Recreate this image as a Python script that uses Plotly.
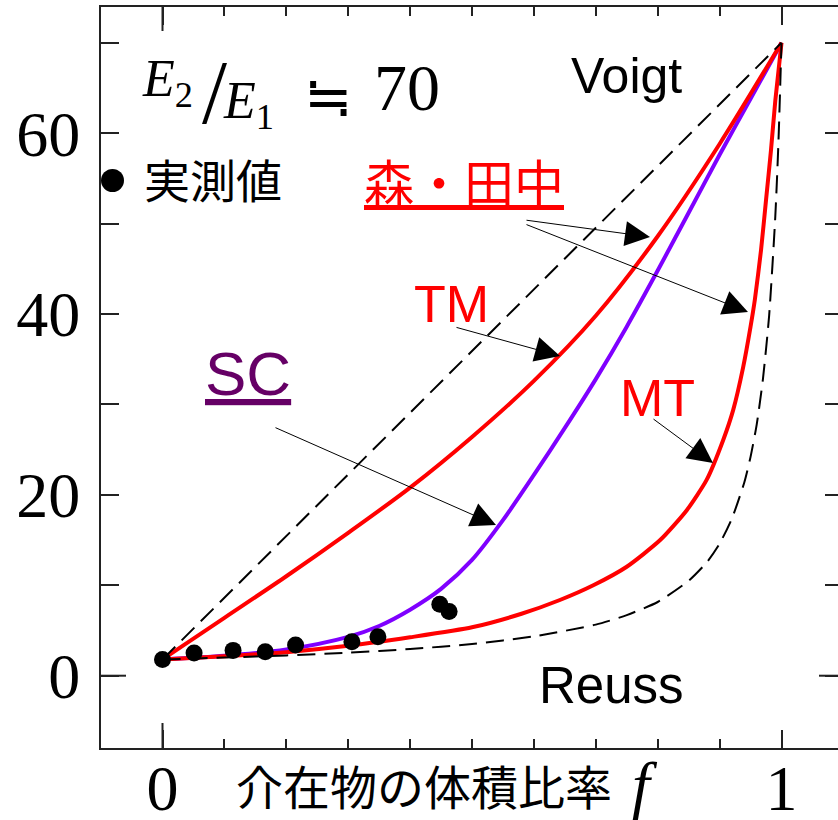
import plotly.graph_objects as go

# ---------------- data ----------------
voigt_f = [0.0, 1.0]
voigt_E = [1.8, 70.0]

reuss_f = [0.0, 0.1, 0.2, 0.3, 0.4, 0.5, 0.6, 0.7, 0.75, 0.8, 0.85, 0.88, 0.9,
           0.92, 0.94, 0.95, 0.96, 0.97, 0.98, 0.99, 0.995, 1.0]
reuss_E = [1.8, 2.0, 2.24, 2.55, 2.95, 3.5, 4.35, 5.65, 6.7, 8.15, 10.5, 12.6, 14.6,
           17.4, 21.4, 24.2, 27.8, 32.8, 39.8, 50.8, 58.9, 70.0]

mt_f = [0.0, 0.1, 0.2, 0.3, 0.4, 0.5, 0.58, 0.642, 0.696, 0.75, 0.804, 0.847,
        0.879, 0.906, 0.922, 0.938, 0.95, 0.957, 0.967, 0.975, 0.983, 0.99, 1.0]
mt_E = [1.8, 2.15, 2.6, 3.3, 4.25, 5.35, 6.85, 8.37, 10.0, 12.05, 15.0, 18.3,
        21.65, 26.1, 29.4, 34.1, 38.6, 41.6, 47.1, 52.6, 58.1, 63.6, 70.0]

tm_f = [0.0, 0.1, 0.2, 0.3, 0.4, 0.5, 0.6, 0.7, 0.8, 0.9, 1.0]
tm_E = [1.8, 6.4, 11.0, 15.8, 20.8, 26.4, 32.6, 39.8, 48.6, 58.8, 70.0]

sc_f = [0.0, 0.1, 0.2, 0.3, 0.35, 0.4, 0.45, 0.5, 0.55, 0.6, 0.65, 0.7, 0.75,
        0.8, 0.85, 0.9, 0.95, 1.0]
sc_E = [1.8, 2.2, 2.9, 4.3, 5.5, 7.3, 9.6, 12.8, 17.2, 22.2, 27.4, 32.8, 38.6,
        44.8, 51.2, 57.6, 63.8, 70.0]

meas_f = [0.0, 0.051, 0.114, 0.166, 0.215, 0.306, 0.348, 0.448, 0.463]
meas_E = [1.8, 2.5, 2.8, 2.65, 3.4, 3.75, 4.3, 7.9, 7.1]

x_tickvals = [0, 1]
x_ticktext = ["0", "1"]
y_tickvals = [0, 20, 40, 60]
y_ticktext = ["0", "20", "40", "60"]

# ---------------- layout geometry ----------------
W, H = 838, 820
L, R, T, B = 101, 0, 7, 72
PW = W - L - R
PH = H - T - B


def px(x):
    return (x - L) / PW


def py(y):
    return (H - B - y) / PH


RED = "#FF0000"
PURPLE = "#7F00FF"
AX = "#222222"
SMOOTH = dict(shape="spline", smoothing=0.8)

fig = go.Figure()
fig.add_trace(go.Scatter(x=sc_f, y=sc_E, mode="lines", name="SC", showlegend=False,
                         line=dict(color=PURPLE, width=4, **SMOOTH)))
fig.add_trace(go.Scatter(x=tm_f, y=tm_E, mode="lines", name="TM", showlegend=False,
                         line=dict(color=RED, width=4, **SMOOTH)))
fig.add_trace(go.Scatter(x=mt_f, y=mt_E, mode="lines", name="MT", showlegend=False,
                         line=dict(color=RED, width=4, shape="spline", smoothing=0.6)))
fig.add_trace(go.Scatter(x=voigt_f, y=voigt_E, mode="lines", name="Voigt", showlegend=False,
                         line=dict(color="black", width=2, dash="18px,9px")))
fig.add_trace(go.Scatter(x=reuss_f, y=reuss_E, mode="lines", name="Reuss", showlegend=False,
                         line=dict(color="black", width=2, dash="18px,9px", shape="spline", smoothing=0.6)))
fig.add_trace(go.Scatter(x=meas_f, y=meas_E, mode="markers", name="実測値", showlegend=False,
                         marker=dict(color="black", size=17)))
fig.add_trace(go.Scatter(x=[None], y=[None], yaxis="y2", showlegend=False, hoverinfo="skip"))

tickfont = dict(family="Liberation Serif", size=64, color="black")
yrange = [-(H - B - 675.7) / 9.043, (675.7 - T) / 9.043]

fig.update_layout(
    width=W, height=H,
    margin=dict(l=L, r=R, t=T, b=B, autoexpand=False),
    paper_bgcolor="white", plot_bgcolor="white",
    showlegend=False,
    xaxis=dict(range=[(L - 162.5) / 619, (W - 162.5) / 619],
               tickmode="array", tickvals=x_tickvals, ticktext=x_ticktext,
               ticks="inside", ticklen=18, tickwidth=2, tickcolor=AX,
               showline=True, linecolor=AX, linewidth=2, mirror="ticks",
               showgrid=False, zeroline=False, tickfont=tickfont,
               ticklabelstandoff=-17, automargin=False,
               minor=dict(tickmode="linear", tick0=0, dtick=0.1, ticks="inside",
                          ticklen=9, tickwidth=2, tickcolor=AX, showgrid=False)),
    yaxis=dict(range=yrange,
               tickmode="array", tickvals=y_tickvals, ticktext=y_ticktext,
               ticks="inside", ticklen=18, tickwidth=2, tickcolor=AX,
               showline=True, linecolor=AX, linewidth=2, mirror=False,
               showgrid=False, zeroline=False, tickfont=tickfont,
               ticklabelstandoff=6, automargin=False,
               minor=dict(tickmode="linear", tick0=0, dtick=10, ticks="inside",
                          ticklen=18, tickwidth=2, tickcolor=AX, showgrid=False)),
    yaxis2=dict(overlaying="y", side="right", anchor="x", range=yrange,
                tickmode="linear", tick0=0, dtick=10, ticks="inside", ticklen=13,
                tickwidth=2, tickcolor=AX, showticklabels=False, showline=False,
                showgrid=False, zeroline=False, automargin=False),
)

# longer ticks at the origin (axis decoration)
tick0 = dict(color=AX, width=2)
fig.add_shape(type="line", xref="x", x0=0, x1=0, yref="paper", ysizemode="pixel",
              yanchor=0, y0=0, y1=25, line=tick0)
fig.add_shape(type="line", xref="x", x0=0, x1=0, yref="paper", ysizemode="pixel",
              yanchor=1, y0=0, y1=-24, line=tick0)
fig.add_shape(type="line", yref="y", y0=0, y1=0, xref="paper", xsizemode="pixel",
              xanchor=0, x0=0, x1=25, line=tick0)
fig.add_shape(type="line", yref="y", y0=0, y1=0, xref="paper", xsizemode="pixel",
              xanchor=1, x0=0, x1=-19, line=tick0)
# key symbol for the measured values
fig.add_shape(type="circle", xref="paper", yref="paper", xsizemode="pixel", ysizemode="pixel",
              xanchor=px(112.5), yanchor=py(180.5), x0=-11.5, x1=11.5, y0=-11.5, y1=11.5,
              fillcolor="black", line=dict(width=0))


def ann(text, cx, cy, size, color="black", family="Liberation Sans",
        xanchor="center", yanchor="middle"):
    return dict(text=text, x=px(cx), y=py(cy), xref="paper", yref="paper",
                showarrow=False, xanchor=xanchor, yanchor=yanchor,
                font=dict(family=family, size=size, color=color))


annotations = [
    ann("Voigt", 626, 75.6, 50),
    ann("Reuss", 611, 685.3, 51),
    ann("TM", 451.5, 304, 52, RED),
    ann("MT", 657.5, 398, 52, RED),
    ann("<u>SC</u>", 247.5, 373.5, 62, "#660066"),
    ann("<u>森・田中</u>", 463.5, 180, 50, RED, "Noto Sans CJK JP"),
    ann("実測値", 213, 178, 46, "black", "Noto Sans CJK JP"),
    ann("介在物の体積比率", 424, 784, 47, "black", "Noto Sans CJK JP"),
    ann("<i>f</i>", 645, 784, 64, "black", "Liberation Serif"),
    ann("<i>E</i><sub>2</sub>", 140, 48, 52, "black", "Liberation Serif", "left", "top"),
    ann("/", 214, 92.5, 90, "black", "Liberation Serif"),
    ann("<i>E</i><sub>1</sub>", 221, 70, 52, "black", "Liberation Serif", "left", "top"),
    ann("≒", 328, 92, 58, "black", "Noto Sans CJK JP"),
    ann("70", 407, 87.7, 66, "black", "Liberation Serif"),
]


def arrow(tip_px, tail_px):
    tx, ty = tip_px
    sx, sy = tail_px
    return dict(x=(tx - 162.5) / 619, y=(675.7 - ty) / 9.043,
                ax=(sx - 162.5) / 619, ay=(675.7 - sy) / 9.043,
                xref="x", yref="y", axref="x", ayref="y", text="",
                showarrow=True, arrowhead=2, arrowsize=5, arrowwidth=1,
                arrowcolor="black", standoff=0)


annotations += [
    arrow((650, 237), (525, 220)),
    arrow((748, 312), (525, 224)),
    arrow((560, 356), (455, 327)),
    arrow((496, 525), (274, 427)),
    arrow((713, 463), (652, 418)),
]

fig.update_layout(annotations=annotations)
fig.write_html("out.html")
